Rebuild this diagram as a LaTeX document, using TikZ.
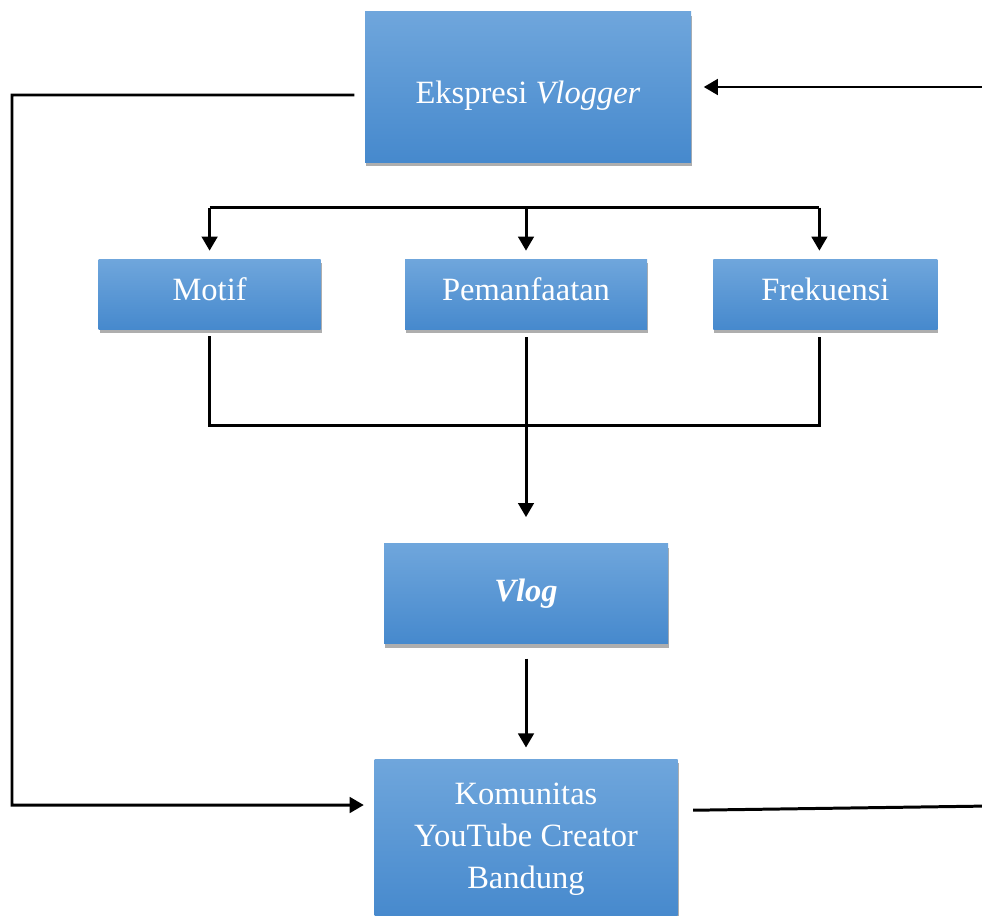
\documentclass[tikz,border=0pt]{standalone}
\usepackage{fontspec}
\setmainfont{Liberation Serif}
\usepackage{xcolor}
\usetikzlibrary{arrows.meta,calc,positioning,shadows}
\definecolor{boxtop}{HTML}{6FA6DC}
\definecolor{boxbot}{HTML}{4689CD}
\newcommand{\nudge}[2]{\raisebox{#1}[\height][\depth]{#2}}

\begin{document}
\begin{tikzpicture}[
    block/.style={top color=boxtop, bottom color=boxbot, text=white,
                  minimum height=0.7cm, inner sep=1pt, align=center,
                  font=\fontsize{9.25}{12}\selectfont,
                  drop shadow={shadow xshift=0.01cm, shadow yshift=-0.04cm,
                               opacity=0.45, fill=black!70}},
    link/.style={line width=0.85pt, black},
    arr/.style={link, -{Triangle[length=4pt, width=4.4pt]}},
]
\useasboundingbox (0,0) rectangle (9.82,-9.15);

% Boxes
\node[block, minimum width=3.26cm, minimum height=1.5cm] (ekspresi) at (5.28,-0.87)
  {\nudge{-2.4pt}{Ekspresi \textit{Vlogger}}};
\node[block, minimum width=2.42cm, below=0.96cm of ekspresi.south, anchor=north,
      xshift=-0.02cm] (pemanfaatan) {\nudge{1.4pt}{Pemanfaatan}};
\node[block, minimum width=2.22cm, left=0.83cm of pemanfaatan] (motif)
  {\nudge{1.4pt}{Motif}};
\node[block, minimum width=2.24cm, right=0.65cm of pemanfaatan] (frekuensi)
  {\nudge{1.4pt}{Frekuensi}};
\node[block, minimum width=2.84cm, minimum height=1.0cm, below=2.13cm of pemanfaatan]
  (vlog) {\textbf{\textit{Vlog}}};
\node[block, minimum width=3.03cm, minimum height=1.6cm, below=1.14cm of vlog]
  (komunitas) {Komunitas\\YouTube Creator\\Bandung};

% Branch to the three boxes
\coordinate (brL) at ($(motif.north)+(0,0.51)$);
\coordinate (brR) at ([xshift=-0.06cm]frekuensi.north |- brL);
\draw[link] (brL) -- (brR);
\draw[arr, shorten >=0.08cm] (brL) -- (motif);
\draw[arr, shorten >=0.08cm] (pemanfaatan.north |- brL) -- (pemanfaatan);
\draw[arr, shorten >=0.08cm] (brR) -- (brR |- frekuensi.north);

% Merge down to Vlog
\coordinate (mrg) at ($(pemanfaatan.south)+(0,-0.95)$);
\draw[link] ([yshift=-0.06cm]motif.south) |- (mrg)
  -| ([yshift=-0.07cm]brR |- frekuensi.south);
\draw[arr, shorten >=0.26cm] ([yshift=-0.07cm]pemanfaatan.south) -- (vlog);
\draw[arr, shorten >=0.11cm] ([yshift=-0.14cm]vlog.south) -- (komunitas);

% Loop on the left
\coordinate (lpTop) at (0.12,-0.95);
\coordinate (lpBot) at (0.12,-8.05);
\draw[arr, shorten >=0.10cm] ([xshift=-0.10cm,yshift=-0.08cm]ekspresi.west)
  -- (lpTop) -- (lpBot) -- (komunitas.west |- lpBot);

% Lines on the right
\coordinate (rtTop) at (9.9,-0.87);
\coordinate (rtBot) at (9.9,-8.06);
\draw[arr, shorten >=0.12cm] (rtTop) -- (ekspresi.east);
\draw[link] ([xshift=0.15cm,yshift=0.29cm]komunitas.east) -- (rtBot);
\end{tikzpicture}
\end{document}
